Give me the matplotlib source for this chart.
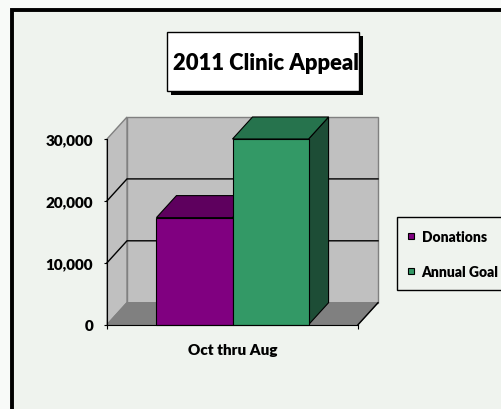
import matplotlib
matplotlib.use("Agg")
import matplotlib.pyplot as plt
from matplotlib.patches import Rectangle, Polygon
from matplotlib.lines import Line2D

plt.rcParams['font.family'] = ['Lato', 'DejaVu Sans']
plt.rcParams['font.weight'] = 'bold'

# ---- data ----
title = "2011 Clinic Appeal"
categories = ["Oct thru Aug"]
series_names = ["Donations", "Annual Goal"]
values = [17300, 30000]
yticks = [0, 10000, 20000, 30000]
ytick_labels = ["0", "10,000", "20,000", "30,000"]

# ---- style ----
front_colors = ["#800080", "#339966"]
top_colors = ["#5E005E", "#26734D"]
side_colors = ["#400040", "#1D4D36"]
wall_color = "#C0C0C0"
floor_color = "#808080"
bg_inner = "#EFF3EE"
bg_outer = "#F8FAF8"

W, H = 502, 410
fig = plt.figure(figsize=(W / 100, H / 100), dpi=100, facecolor=bg_outer)


def fx(x):
    return x / W


def fy(y):
    return 1 - y / H


# outer frame
fig.add_artist(Rectangle((fx(12.5), fy(430)), fx(520), 430 / H - 10.5 / H,
                         transform=fig.transFigure, facecolor=bg_inner,
                         edgecolor="black", linewidth=2.8, zorder=0))

# title box with shadow
tx0, tx1, ty0, ty1 = 167, 359, 33, 92
fig.add_artist(Rectangle((fx(tx0 + 4), fy(ty1 + 4)), fx(tx1 - tx0), (ty1 - ty0) / H,
                         transform=fig.transFigure, facecolor="black",
                         edgecolor="black", linewidth=0, zorder=1))
fig.add_artist(Rectangle((fx(tx0), fy(ty1)), fx(tx1 - tx0), (ty1 - ty0) / H,
                         transform=fig.transFigure, facecolor="white",
                         edgecolor="black", linewidth=1.0, zorder=2))
fig.text(fx((tx0 + tx1) / 2 + 3), fy((ty0 + ty1) / 2 + 1), title, ha="center", va="center",
         fontsize=15.8, fontweight="heavy", zorder=3)

# axes = front plane of the 3D box
ax_l, ax_r, ax_t, ax_b = 107, 358, 140, 325.7
ax = fig.add_axes([fx(ax_l), fy(ax_b), fx(ax_r - ax_l), (ax_b - ax_t) / H])
ax.set_facecolor("none")
ymax = yticks[-1]
ax.set_xlim(0, 1)
ax.set_ylim(0, ymax)

# depth in data units
dxp, dyp = 20, 22
dx = dxp / (ax_r - ax_l)
dy = dyp / (ax_b - ax_t) * ymax

# walls and floor
ax.add_patch(Polygon([(dx, dy), (1 + dx, dy), (1 + dx, ymax + dy), (dx, ymax + dy)],
                     closed=True, facecolor=wall_color, edgecolor="#808080",
                     linewidth=1.0, clip_on=False, zorder=0.5))
ax.add_patch(Polygon([(0, 0), (dx, dy), (dx, ymax + dy), (0, ymax)],
                     closed=True, facecolor=wall_color, edgecolor="#808080",
                     linewidth=1.0, clip_on=False, zorder=0.6))
ax.add_patch(Polygon([(0, 0), (1, 0), (1 + dx, dy), (dx, dy)],
                     closed=True, facecolor=floor_color, edgecolor="#808080",
                     linewidth=1.0, clip_on=False, zorder=0.7))
ax.plot([1, 1 + dx], [0, dy], color="black", lw=1.0, clip_on=False, zorder=0.8)

for v in yticks[1:-1]:
    ax.plot([0, dx, 1 + dx], [v, v + dy, v + dy], color="black", lw=1.0,
            clip_on=False, zorder=0.9)

# bars
n = len(series_names)
bw = 0.303
lefts = [0.5 - bw * n / 2 + i * bw for i in range(n)]
for i in range(n):
    a = lefts[i]
    b = a + bw
    v = values[i]
    ax.add_patch(Polygon([(b, 0), (b + dx, dy), (b + dx, v + dy), (b, v)], closed=True,
                         facecolor=side_colors[i], edgecolor="black", linewidth=0.8,
                         clip_on=False, zorder=2 + i))
    ax.add_patch(Polygon([(a, v), (b, v), (b + dx, v + dy), (a + dx, v + dy)], closed=True,
                         facecolor=top_colors[i], edgecolor="black", linewidth=0.8,
                         clip_on=False, zorder=2 + i))
    ax.bar([a], [v], width=bw, align="edge", color=front_colors[i], edgecolor="black",
           linewidth=0.8, zorder=2.1 + i, clip_on=False)

# spines / ticks
for s in ["top", "right"]:
    ax.spines[s].set_visible(False)
ax.spines["left"].set_color("black")
ax.spines["bottom"].set_color("black")
ax.spines["left"].set_zorder(5)
ax.spines["bottom"].set_zorder(5)
ax.set_yticks(yticks)
ax.set_yticklabels(ytick_labels, fontsize=11, fontweight="heavy")
ax.tick_params(axis="y", length=2.5, width=0.8, pad=7.5, direction="out")
ax.set_xticks([0.5])
ax.set_xticklabels(categories, fontsize=11, fontweight="heavy")
ax.set_xticks([0, 1], minor=True)
ax.tick_params(axis="x", which="major", length=0, pad=13)
ax.tick_params(axis="x", which="minor", length=3, width=0.8, direction="out")

# legend
lx0, lx1, ly0, ly1 = 397, 512, 218, 291
fig.add_artist(Rectangle((fx(lx0), fy(ly1)), fx(lx1 - lx0), (ly1 - ly0) / H,
                         transform=fig.transFigure, facecolor=bg_inner,
                         edgecolor="black", linewidth=1.0, zorder=1))
handles = [Line2D([], [], linestyle="none", marker="s", markersize=5.0,
                  markerfacecolor=front_colors[i], markeredgecolor="black",
                  markeredgewidth=0.8) for i in range(n)]
leg = fig.legend(handles, series_names, loc="center left",
                 bbox_to_anchor=(fx(407), fy((ly0 + ly1) / 2 + 0.5)), frameon=False,
                 prop={"size": 10, "weight": "heavy"}, handlelength=0.6,
                 handletextpad=0.45, labelspacing=1.6, borderpad=0,
                 borderaxespad=0)
leg.set_zorder(3)

fig.savefig("out.png", dpi=100, facecolor=bg_outer)
